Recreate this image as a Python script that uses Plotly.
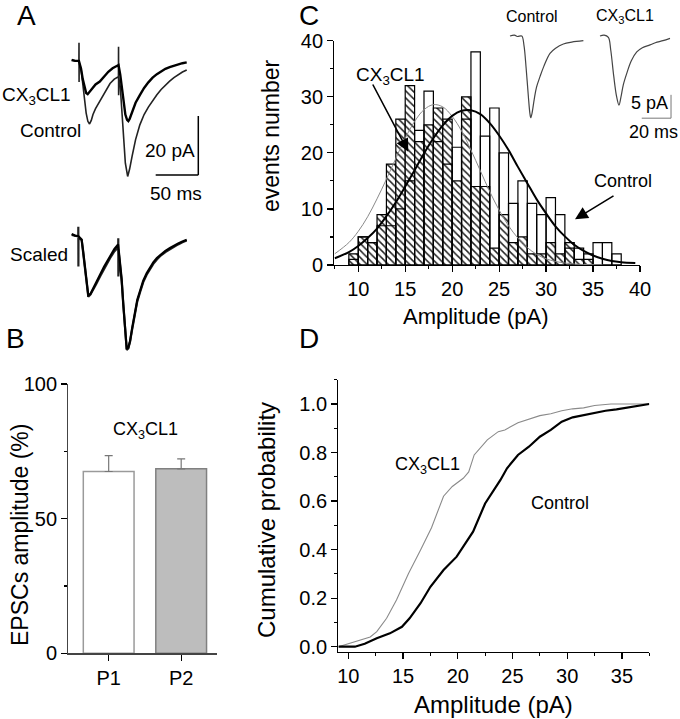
import plotly.graph_objects as go

FONT = "Liberation Sans, Arial, Helvetica, sans-serif"
W, H = 680, 719

# ---------------- Panel C : amplitude histograms ----------------
bin_left = list(range(9, 38))
ctrl_counts = [1, 5, 4, 7, 7, 10, 15, 24, 31, 22, 18, 21, 26, 38, 23, 28, 20, 11, 15, 11,
               9, 12, 9, 3, 3, 2, 4, 4, 2]
cx_counts = [2, 5, 4, 9, 18, 26, 32, 22, 25, 28, 26, 15, 30, 14, 14, 3, 9, 4, 5, 2,
             2, 4, 2, 4, 1, 1, 0, 0, 0]

ctrl_fit_x = [7.5, 9, 10, 11, 12, 13, 14, 15, 16, 17, 18, 19, 20, 21, 22, 23, 24, 25, 26, 27,
              28, 29, 30, 31, 32, 33, 34, 35, 36, 37, 38, 39.5]
ctrl_fit_y = [1.2, 2.3, 3.4, 4.8, 6.5, 8.7, 11.2, 14.0, 16.9, 19.9, 22.6, 24.9, 26.6, 27.5, 27.6,
              26.9, 25.3, 23.1, 20.5, 17.5, 14.6, 11.7, 9.2, 6.9, 5.1, 3.6, 2.5, 1.7, 1.1, 0.7,
              0.5, 0.35]
cx_fit_x = [7.5, 9, 10, 11, 12, 13, 14, 15, 16, 17, 18, 19, 20, 21, 22, 23, 24, 25, 26, 27,
            28, 29, 30, 31, 32, 33, 34, 35, 36]
cx_fit_y = [2.0, 4.0, 6.0, 8.6, 11.8, 15.3, 19.0, 22.6, 25.6, 27.7, 28.6, 28.2, 26.5, 23.9, 20.5,
            16.8, 13.1, 9.8, 7.0, 4.8, 3.1, 1.9, 1.1, 0.64, 0.35, 0.18, 0.09, 0.05, 0.03]

# inset averaged events (ms, pA)
inset_ctrl_t = [0, 3, 5, 8, 9.5, 11, 12.5, 13.5, 14.1, 15, 16.5, 18, 20.4, 23, 27.2, 31, 36.3, 42, 49.9]
inset_ctrl_i = [0, 0.2, -0.1, 0, -2, -7, -13, -16.5, -17.5, -16.5, -13.5, -11, -8.7, -6.5, -3.7,
                -2.6, -1.7, -1.3, -1.0]
inset_cx_t = [61.2, 64, 66.9, 68.5, 70.5, 72.5, 74.1, 75.5, 77, 79.4, 82.5, 86.2, 90, 95.2, 100,
              104, 108.8]
inset_cx_i = [0, 0.2, -0.3, -3, -8.5, -13, -14.8, -13, -10.5, -8.0, -5.3, -3.4, -2.5, -1.9, -1.3,
              -1.0, -0.5]

# ---------------- Panel D : cumulative probability ----------------
ctrl_cdf_x = [9.1, 10.6, 11.5, 12.6, 13.8, 14.9, 15.6, 16.6, 17.5, 18.7, 19.9, 21.4, 22.5, 23.9,
              24.5, 25.5, 26.5, 27.5, 28.5, 29.5, 30.5, 31.5, 32.5, 33.5, 34.5, 35.5, 36.5, 37.5]
ctrl_cdf_y = [0, 0, 0.012, 0.035, 0.055, 0.082, 0.117, 0.179, 0.247, 0.316, 0.371, 0.474, 0.59,
              0.687, 0.735, 0.79, 0.824, 0.865, 0.893, 0.927, 0.945, 0.955, 0.965, 0.972, 0.978,
              0.986, 0.993, 1.0]
cx_cdf_x = [9.1, 10.0, 11.0, 12.0, 12.6, 13.5, 14.4, 15.5, 16.6, 17.6, 18.7, 19.5, 20.5, 21.0,
            21.5, 22.7, 23.7, 24.3, 25.5, 26.5, 27.5, 28.5, 29.5, 30.5, 31.5, 32.5, 34.0, 37.5]
cx_cdf_y = [0, 0.012, 0.025, 0.04, 0.062, 0.117, 0.192, 0.302, 0.398, 0.49, 0.62, 0.66, 0.694,
            0.72, 0.79, 0.852, 0.886, 0.893, 0.923, 0.937, 0.952, 0.96, 0.972, 0.98, 0.984,
            0.994, 1.0, 1.0]

# ---------------- Panel B : paired-pulse amplitudes ----------------
b_cats = ["P1", "P2"]
b_vals = [67.5, 68.5]
b_err = [5.9, 3.7]

# ---------------- Panel A : EPSC traces (ms, pA) ----------------
a_ctrl_t = [0, 4, 8.5, 8.6, 8.7, 8.8, 11, 13, 15, 17, 19, 21, 23, 25, 28, 32, 36, 40, 45, 50,
            54.9, 55.0, 55.1, 55.2, 57, 59, 61, 63, 65.7, 68, 71, 75, 80, 85, 90, 95, 100, 105,
            110, 115, 120, 125, 130, 135]
a_ctrl_i = [0, -0.3, -0.5, 5.8, -7.5, -1.0, -3, -8, -13.5, -18, -20.8, -21.7, -20.5, -18.5, -16.5,
            -14.5, -12, -10, -8, -6.5, -5.7, 4.5, -12, -6, -9, -18, -28, -35, -39.5, -37, -32.5,
            -27, -22, -18.5, -16, -13.8, -11.8, -10, -8.5, -7.2, -6, -5, -4.1, -3.4]
a_cx_t = [0, 4, 8.5, 11, 13, 15, 17, 18.8, 21, 24, 28, 33, 38, 43, 48, 52.8, 55, 57, 59, 61, 63,
          65, 66.5, 68, 71, 75, 80, 85, 90, 95, 100, 105, 110, 115, 120, 125, 130, 135]
a_cx_i = [0, -0.3, -0.3, -3, -6.5, -9.5, -11.2, -11.6, -10.8, -9.5, -8.3, -7.3, -5.5, -4, -2.8,
          -1.9, -1.7, -5, -10, -15, -18.5, -20.3, -20.7, -20, -17.5, -14.5, -11.9, -9.5, -7.6, -6,
          -4.8, -3.8, -3, -2.4, -1.9, -1.5, -1.1, -0.8]
s_ctrl_t = [0, 4, 7.7, 7.8, 7.9, 8.0, 11.7, 13.5, 15.6, 17.5, 19.5, 22, 25.4, 29, 33.3, 38, 45,
            50, 54.6, 54.7, 54.8, 54.9, 58.7, 60.5, 62.6, 64.6, 66.5, 68.5, 71, 74.4, 77, 80.2, 84,
            88, 92, 95.8, 100, 103.7, 110, 115.4, 120, 125, 130, 135]
s_ctrl_i = [0, -0.4, -0.5, 2.8, -10.7, -1.0, -1.7, -6, -11.3, -16.5, -20.9, -20.2, -18.6, -16.5,
            -14.1, -11.5, -7.9, -5.6, -4.2, -1.1, -14.1, -5, -15.8, -24, -32.8, -39, -38.5, -36.2,
            -32, -27.1, -22.5, -19.5, -16, -13.5, -11.5, -9.8, -8.3, -7.2, -5.8, -4.8, -4, -3.2,
            -2.5, -1.9]
s_cx_t = [0, 4, 8, 11.7, 13.5, 15.6, 17.5, 19.5, 22, 25.4, 29, 33.3, 38, 45, 50, 54.5, 58.7, 60.5,
          62.6, 64.6, 66.5, 68.5, 71, 74.4, 77, 80.2, 84, 88, 92, 95.8, 100, 103.7, 110, 115.4, 120,
          125, 130, 135]
s_cx_i = [0.3, -0.2, -0.4, -1.5, -5.5, -11.0, -16.2, -20.5, -20.0, -18.2, -16.0, -13.5, -10.8, -7.2,
          -4.8, -3.2, -15.0, -23.5, -32.3, -38.6, -38.2, -36.0, -31.5, -26.5, -22.0, -19.0, -15.5,
          -13.0, -11.0, -9.3, -7.8, -6.8, -5.4, -4.4, -3.6, -2.9, -2.2, -1.6]


def px(x):
    return x / W


def py(y):
    return 1 - y / H


fig = go.Figure()

# Panel C bars: CX3CL1 hatched underneath, control outline on top
fig.add_trace(go.Bar(
    x=bin_left, y=cx_counts, offset=0, width=1, xaxis="x", yaxis="y",
    marker=dict(color="white", line=dict(color="black", width=1.2),
                pattern=dict(shape="\\", fgcolor="#222222", bgcolor="white", size=5,
                             solidity=0.3)),
    showlegend=False))
fig.add_trace(go.Bar(
    x=bin_left, y=ctrl_counts, offset=0, width=1, xaxis="x", yaxis="y",
    marker=dict(color="rgba(0,0,0,0)", line=dict(color="black", width=1.2)),
    showlegend=False))
fig.add_trace(go.Scatter(x=cx_fit_x, y=cx_fit_y, mode="lines", line=dict(color="#8a8a8a", width=1,
                         shape="spline"), xaxis="x", yaxis="y", showlegend=False))
fig.add_trace(go.Scatter(x=ctrl_fit_x, y=ctrl_fit_y, mode="lines",
                         line=dict(color="black", width=2, shape="spline"),
                         xaxis="x", yaxis="y", showlegend=False))

# inset traces
fig.add_trace(go.Scatter(x=inset_ctrl_t, y=inset_ctrl_i, mode="lines",
                         line=dict(color="#444", width=1.2, shape="spline"),
                         xaxis="x6", yaxis="y6", showlegend=False))
fig.add_trace(go.Scatter(x=inset_cx_t, y=inset_cx_i, mode="lines",
                         line=dict(color="#444", width=1.2, shape="spline"),
                         xaxis="x6", yaxis="y6", showlegend=False))

# Panel D
fig.add_trace(go.Scatter(x=cx_cdf_x, y=cx_cdf_y, mode="lines", line=dict(color="#8a8a8a", width=1.1),
                         xaxis="x2", yaxis="y2", showlegend=False))
fig.add_trace(go.Scatter(x=ctrl_cdf_x, y=ctrl_cdf_y, mode="lines", line=dict(color="black", width=2.2),
                         xaxis="x2", yaxis="y2", showlegend=False))

# Panel B
fig.add_trace(go.Bar(
    x=b_cats, y=b_vals, width=0.7, xaxis="x3", yaxis="y3",
    marker=dict(color=["white", "#bdbdbd"], line=dict(color=["#9a9a9a", "#808080"], width=1.5)),
    error_y=dict(type="data", symmetric=False, array=b_err, arrayminus=[0, 0],
                 color="#777", thickness=1.2, width=4),
    showlegend=False))

# Panel A traces
fig.add_trace(go.Scatter(x=a_ctrl_t, y=a_ctrl_i, mode="lines", line=dict(color="#222", width=1.6),
                         xaxis="x4", yaxis="y4", showlegend=False))
fig.add_trace(go.Scatter(x=a_cx_t, y=a_cx_i, mode="lines", line=dict(color="black", width=2.4),
                         xaxis="x4", yaxis="y4", showlegend=False))
fig.add_trace(go.Scatter(x=s_ctrl_t, y=s_ctrl_i, mode="lines", line=dict(color="#222", width=2.2),
                         xaxis="x5", yaxis="y5", showlegend=False))
fig.add_trace(go.Scatter(x=s_cx_t, y=s_cx_i, mode="lines", line=dict(color="black", width=2.2),
                         xaxis="x5", yaxis="y5", showlegend=False))

tickfont = dict(family=FONT, size=20, color="black")


def vis_axis(**kw):
    d = dict(showline=True, linecolor="black", linewidth=1.2, ticks="outside", ticklen=6,
             tickwidth=1.2, tickcolor="black", showgrid=False, zeroline=False, tickfont=tickfont,
             fixedrange=True, automargin=False)
    d.update(kw)
    return d


def hid_axis(**kw):
    d = dict(visible=False, showgrid=False, zeroline=False, fixedrange=True, automargin=False)
    d.update(kw)
    return d


fig.update_layout(
    template="none",
    width=W, height=H, margin=dict(l=0, r=0, t=0, b=0, pad=0, autoexpand=False),
    paper_bgcolor="white", plot_bgcolor="rgba(0,0,0,0)",
    barmode="overlay", bargap=0,
    font=dict(family=FONT, color="black"),
    xaxis=vis_axis(domain=[px(334.3), px(640)], range=[7.45, 40], anchor="y", tick0=10, dtick=5,
                   minor=dict(dtick=2.5, tick0=0, ticks="outside", ticklen=3, tickcolor="black")),
    yaxis=vis_axis(domain=[py(265), py(40.7)], range=[0, 40], anchor="x", tick0=0, dtick=10,
                   minor=dict(dtick=5, ticks="outside", ticklen=3, tickcolor="black")),
    xaxis2=vis_axis(domain=[px(338.3), px(649.3)], range=[9.085, 37.5], anchor="y2", tick0=0,
                    dtick=5, minor=dict(dtick=2.5, ticks="outside", ticklen=3, tickcolor="black")),
    yaxis2=vis_axis(domain=[py(651.7), py(379.7)], range=[-0.0206, 1.1], anchor="x2", tick0=0,
                    dtick=0.2, tickformat=".1f",
                    minor=dict(dtick=0.1, ticks="outside", ticklen=3, tickcolor="black")),
    xaxis3=vis_axis(domain=[px(68.3), px(216.7)], range=[-0.557, 1.49], anchor="y3",
                    type="category", linecolor="#444"),
    yaxis3=vis_axis(domain=[py(653.3), py(384)], range=[0, 100], anchor="x3",
                    tickvals=[0, 50, 100], linecolor="#444",
                    minor=dict(tickvals=[25, 75], ticks="outside", ticklen=3, tickcolor="black")),
    xaxis4=hid_axis(domain=[px(60), px(200)], range=[-13.7, 150.6], anchor="y4"),
    yaxis4=hid_axis(domain=[py(185), py(35)], range=[-42.4, 8.47], anchor="x4"),
    xaxis5=hid_axis(domain=[px(60), px(200)], range=[-13.7, 150.6], anchor="y5"),
    yaxis5=hid_axis(domain=[py(360), py(210)], range=[-42.4, 8.47], anchor="x5"),
    xaxis6=hid_axis(domain=[px(500), px(680)], range=[-6.8, 115.6], anchor="y6"),
    yaxis6=hid_axis(domain=[py(125), py(25)], range=[-19.06, 2.36], anchor="x6"),
)

# scale bars
shapes = [
    dict(type="line", xref="x4", yref="y4", x0=148.6, x1=148.6, y0=-19, y1=-39,
         line=dict(color="black", width=1.5)),
    dict(type="line", xref="x4", yref="y4", x0=98.6, x1=148.6, y0=-39, y1=-39,
         line=dict(color="black", width=1.5)),
    dict(type="line", xref="x6", yref="y6", x0=109.5, x1=109.5, y0=-12.6, y1=-17.6,
         line=dict(color="#777", width=1)),
    dict(type="line", xref="x6", yref="y6", x0=89.6, x1=109.5, y0=-17.6, y1=-17.6,
         line=dict(color="#777", width=1)),
]
fig.update_layout(shapes=shapes)

CX = "CX<sub>3</sub>CL1"


def txt(x, y, s, size=19, **kw):
    d = dict(x=px(x), y=py(y), xref="paper", yref="paper", text=s, showarrow=False,
             font=dict(family=FONT, size=size, color="black"), xanchor="center", yanchor="middle")
    d.update(kw)
    return d


ann = [
    txt(26.7, 16, "A", size=28), txt(15, 338, "B", size=28),
    txt(309, 16, "C", size=28), txt(309, 338, "D", size=28),
    # panel A
    txt(36.7, 96, CX, size=19), txt(50, 131, "Control", size=19),
    txt(170, 150, "20 pA", size=19), txt(176, 193, "50 ms", size=19),
    txt(38.5, 255, "Scaled", size=19),
    # panel B
    txt(145, 430, CX, size=18),
    txt(20, 535, "EPSCs amplitude (%)", size=23, textangle=-90),
    # panel C
    txt(271, 136, "events number", size=23, textangle=-90),
    txt(476, 316, "Amplitude (pA)", size=22),
    txt(390, 76, CX, size=19), txt(622.5, 181, "Control", size=18),
    txt(532, 17, "Control", size=16), txt(625, 17, CX, size=16),
    txt(649, 103, "5 pA", size=18), txt(653, 132, "20 ms", size=18),
    # panel D
    txt(266, 520, "Cumulative probability", size=24, textangle=-90),
    txt(493, 704, "Amplitude (pA)", size=24),
    txt(427, 465, CX, size=18), txt(560, 503, "Control", size=18),
    # arrows
    dict(x=px(408.3), y=py(151.7), xref="paper", yref="paper", text="", showarrow=True,
         ax=-36.3, ay=-68.7, arrowhead=2, arrowsize=1.6, arrowwidth=1.6, arrowcolor="black"),
    dict(x=px(575), y=py(219.3), xref="paper", yref="paper", text="", showarrow=True,
         ax=40, ay=-24.3, arrowhead=2, arrowsize=1.6, arrowwidth=1.6, arrowcolor="black"),
]
fig.update_layout(annotations=ann)

# the page body would otherwise add an 8 px margin around the figure
fig.write_html("out.html", config={"displayModeBar": False, "staticPlot": True},
               post_script="document.body.style.margin='0px';document.body.style.padding='0px';")
